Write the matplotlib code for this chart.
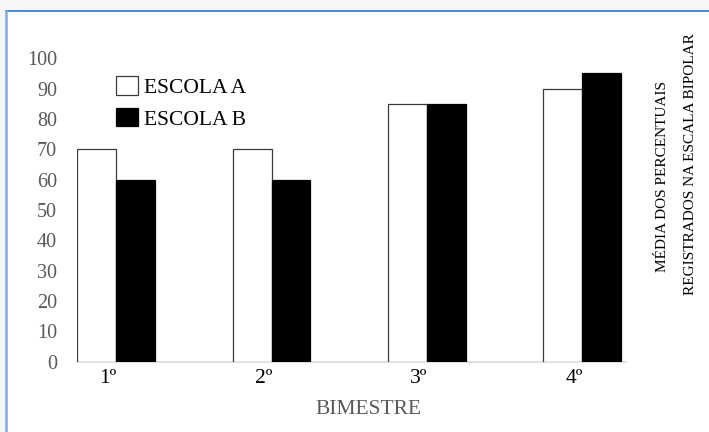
import matplotlib
matplotlib.use("Agg")
import matplotlib.pyplot as plt
import matplotlib.transforms as mtransforms
from matplotlib.patches import Rectangle
from matplotlib.lines import Line2D
import numpy as np

plt.rcParams["font.family"] = ["Liberation Serif", "DejaVu Serif"]

# Data
bimestres = ["1º", "2º", "3º", "4º"]
escola_a = [70, 70, 85, 90]
escola_b = [60, 60, 85, 95]
series_names = ["ESCOLA A", "ESCOLA B"]
y_ticks = [0, 10, 20, 30, 40, 50, 60, 70, 80, 90, 100]

W, H = 709, 432
fig = plt.figure(figsize=(W / 100, H / 100), dpi=100)
fig.patch.set_facecolor("white")


def px(x, y):
    """Pixel position (from top-left) to figure fraction."""
    return x / W, 1 - y / H


# Page background strips and the blue frame lines
fig.add_artist(Rectangle((0, 1 - 10.5 / H), 1, 10.5 / H, transform=fig.transFigure,
                         facecolor="#f6f6f6", edgecolor="none", zorder=0))
fig.add_artist(Rectangle((0, 0), 5 / W, 1, transform=fig.transFigure,
                         facecolor="#f6f6f6", edgecolor="none", zorder=0))
fig.add_artist(Line2D([5.5 / W, 1], [1 - 10.8 / H] * 2, transform=fig.transFigure,
                      color="#4a8bd6", lw=1.4, zorder=1))
fig.add_artist(Line2D([5.8 / W] * 2, [0, 1 - 10.8 / H], transform=fig.transFigure,
                      color="#7eaadf", lw=1.8, zorder=1))

# Axes placement
left, right, bottom, top = 77.3, 625.7, 361.7, 58.3
ax = fig.add_axes([left / W, 1 - bottom / H, (right - left) / W, (bottom - top) / H])
ax.set_facecolor("none")

x = np.arange(len(bimestres))
width = 0.25
bars_a = ax.bar(x - width / 2, escola_a, width, color="white", edgecolor="#3a3a3a",
                linewidth=0.9, label=series_names[0], zorder=2)
bars_b = ax.bar(x + width / 2, escola_b, width, color="black", edgecolor="black",
                linewidth=0.9, label=series_names[1], zorder=2)

ax.set_xlim(-0.25, 3.279)
ax.set_ylim(0, 100)

for s in ["top", "right", "left"]:
    ax.spines[s].set_visible(False)
ax.spines["bottom"].set_color("#d9d9d9")
ax.spines["bottom"].set_linewidth(1.2)
ax.spines["bottom"].set_zorder(1)

ax.set_yticks(y_ticks)
ax.set_yticklabels([str(v) for v in y_ticks])
ax.tick_params(axis="y", length=0, pad=14.5, labelsize=14.5, labelcolor="#595959")

ax.set_xticks(x)
ax.set_xticklabels(bimestres)
ax.tick_params(axis="x", length=0, pad=5, labelsize=15.5, labelcolor="black")
shift = mtransforms.ScaledTranslation(-8 / 100, 0, fig.dpi_scale_trans)
for lbl in ax.get_xticklabels():
    lbl.set_transform(lbl.get_transform() + shift)

ax.set_xlabel("BIMESTRE", fontsize=15.5, color="#595959", va="center")
ax.xaxis.set_label_coords((369 - left) / (right - left), -(410 - bottom) / (bottom - top))

# Legend
leg = ax.legend(handles=[bars_a, bars_b], loc="upper left",
                bbox_to_anchor=px(116, 76.5), bbox_transform=fig.transFigure,
                frameon=False, fontsize=15.5, handlelength=1.0, handleheight=0.95,
                handletextpad=0.3, labelspacing=0.45, borderpad=0, borderaxespad=0)
for t in leg.get_texts():
    t.set_color("black")

# Right-hand axis title (two lines)
fig.text(*px(662, 176), "MÉDIA DOS PERCENTUAIS", rotation=90, ha="center", va="center",
         fontsize=11, color="black")
fig.text(*px(690, 164), "REGISTRADOS NA ESCALA BIPOLAR", rotation=90, ha="center",
         va="center", fontsize=11, color="black")

fig.savefig("out.png", dpi=100, facecolor=fig.get_facecolor())
